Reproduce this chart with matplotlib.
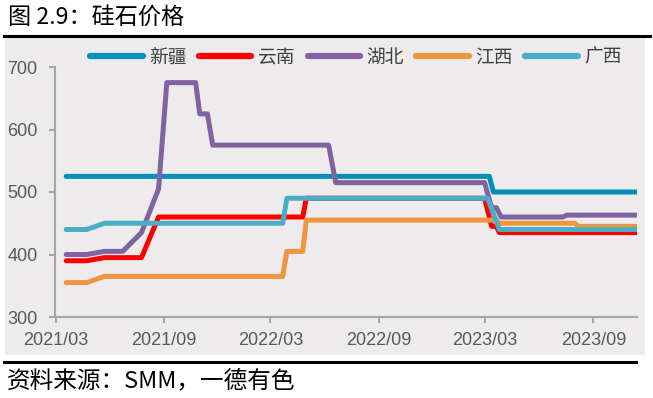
import matplotlib
matplotlib.use("Agg")
import matplotlib.pyplot as plt
import matplotlib.dates as mdates
from matplotlib.patches import Rectangle
from matplotlib.lines import Line2D
import pandas as pd

# series (breakpoints)
xj_dates = ['2021-03-19', '2023-03-08', '2023-03-15', '2023-11-13']
xj_vals = [525, 525, 500, 500]

yn_dates = ['2021-03-19', '2021-04-23', '2021-05-23', '2021-07-25', '2021-08-23',
            '2022-04-25', '2022-05-01', '2023-02-28', '2023-03-12', '2023-03-20',
            '2023-03-25', '2023-11-13']
yn_vals = [390, 390, 395, 395, 460, 460, 490, 490, 445, 445, 435, 435]

hb_dates = ['2021-03-19', '2021-04-23', '2021-05-23', '2021-06-23', '2021-07-25',
            '2021-08-23', '2021-09-06', '2021-10-25', '2021-11-01', '2021-11-14',
            '2021-11-23', '2022-06-08', '2022-06-20', '2023-02-28', '2023-03-12',
            '2023-03-20', '2023-03-28', '2023-07-11', '2023-07-18', '2023-11-13']
hb_vals = [400, 400, 405, 405, 435, 505, 675, 675, 625, 625,
           575, 575, 515, 515, 475, 475, 460, 460, 463, 463]

jx_dates = ['2021-03-19', '2021-04-23', '2021-05-23', '2022-03-22', '2022-03-29',
            '2022-04-25', '2022-05-01', '2023-03-20', '2023-03-25', '2023-07-31',
            '2023-08-07', '2023-11-13']
jx_vals = [355, 355, 365, 365, 405, 405, 455, 455, 450, 450, 445, 445]

gx_dates = ['2021-03-19', '2021-04-23', '2021-05-23', '2022-03-22', '2022-03-29',
            '2023-03-05', '2023-03-25', '2023-11-13']
gx_vals = [440, 440, 450, 450, 490, 490, 440, 440]

names = ['新疆', '云南', '湖北', '江西', '广西']
colors = ['#0090B8', '#FF0000', '#8064A2', '#F0953F', '#4BACC6']
series = [(xj_dates, xj_vals), (yn_dates, yn_vals), (hb_dates, hb_vals),
          (jx_dates, jx_vals), (gx_dates, gx_vals)]

tick_dates = ['2021-03-01', '2021-09-01', '2022-03-01', '2022-09-01', '2023-03-01', '2023-09-01']
y_ticks = [300, 400, 500, 600, 700]

cjk = ['Noto Sans CJK SC', 'DejaVu Sans']
W, H = 653, 398
fig = plt.figure(figsize=(W / 100, H / 100), dpi=100)
fig.patch.set_facecolor('white')

# grey panel and rules
fig.add_artist(Rectangle((5 / W, 1 - 355 / H), 640 / W, 318 / H, transform=fig.transFigure,
                         facecolor='#EDEBEC', edgecolor='none', zorder=0))
fig.add_artist(Line2D([4 / W, 650 / W], [1 - 35.5 / H] * 2, transform=fig.transFigure,
                      color='black', lw=2.2))
fig.add_artist(Line2D([4 / W, 636 / W], [1 - 362 / H] * 2, transform=fig.transFigure,
                      color='black', lw=2.2))

fig.text(8 / W, 1 - 17 / H, '图 2.9：硅石价格', family=cjk, fontsize=16.7,
         va='center', ha='left', color='black')
fig.text(7 / W, 1 - 381 / H, '资料来源：SMM，一德有色', family=cjk, fontsize=17,
         va='center', ha='left', color='black')

ax = fig.add_axes([55 / W, 1 - 317 / H, (637 - 55) / W, (317 - 67) / H])
ax.set_facecolor('none')

for (d, v), name, c in zip(series, names, colors):
    ax.plot(pd.to_datetime(d), v, color=c, lw=3.6, label=name,
            solid_joinstyle='round', solid_capstyle='round')

ax.set_ylim(300, 700)
ax.set_xlim(pd.Timestamp('2021-02-28'), pd.Timestamp('2023-11-14'))
ax.set_yticks(y_ticks)
ax.set_xticks(pd.to_datetime(tick_dates))
ax.xaxis.set_major_formatter(mdates.DateFormatter('%Y/%m'))

for s in ['top', 'right']:
    ax.spines[s].set_visible(False)
for s in ['left', 'bottom']:
    ax.spines[s].set_color('#A6A6A6')
    ax.spines[s].set_linewidth(1.5)
ax.tick_params(axis='both', color='#A6A6A6', width=1.5, length=4.5,
               labelcolor='#595959', labelsize=13)
ax.tick_params(axis='y', pad=8)
ax.tick_params(axis='x', pad=6)
for lab in ax.get_xticklabels() + ax.get_yticklabels():
    lab.set_family('Liberation Sans')

leg_handles = [Line2D([], [], color=c, lw=4.5, solid_capstyle='round') for c in colors]
leg = fig.legend(leg_handles, names, loc='center', bbox_to_anchor=(356 / W, 1 - 57 / H),
                 ncol=5, frameon=False, handlelength=2.8, handletextpad=0.35,
                 columnspacing=0.65, prop={'family': cjk, 'size': 13.5})
for t in leg.get_texts():
    t.set_color('#404040')

fig.savefig('out.png', dpi=100, facecolor='white')
